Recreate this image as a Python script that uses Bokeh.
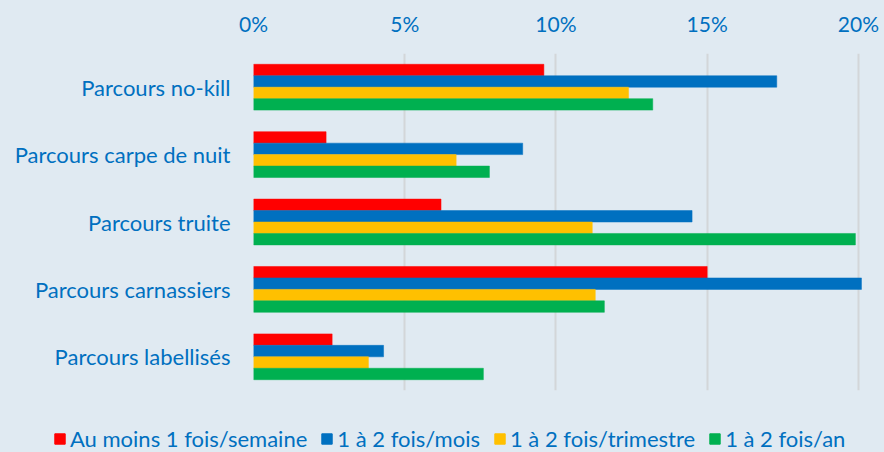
from bokeh.plotting import figure
from bokeh.layouts import column
from bokeh.models import FactorRange, Range1d, FixedTicker, Legend, LegendItem, ColumnDataSource
from bokeh.transform import dodge
from bokeh.embed import file_html
from bokeh.resources import INLINE

categories = ["Parcours no-kill", "Parcours carpe de nuit", "Parcours truite",
              "Parcours carnassiers", "Parcours labellisés"]
series_names = ["Au moins 1 fois/semaine", "1 à 2 fois/mois", "1 à 2 fois/trimestre", "1 à 2 fois/an"]
weekly = [9.6, 2.4, 6.2, 15.0, 2.6]
monthly = [17.3, 8.9, 14.5, 20.1, 4.3]
quarterly = [12.4, 6.7, 11.2, 11.3, 3.8]
yearly = [13.2, 7.8, 19.9, 11.6, 7.6]
tick_values = [0, 5, 10, 15, 20]
tick_labels = ["0%", "5%", "10%", "15%", "20%"]

colors = ["#FF0000", "#0070C0", "#FFC000", "#00B050"]
text_color = "#0070C0"
bg = "#e0eaf2"
FONT = "Lato"

src = ColumnDataSource(dict(cat=categories, weekly=weekly, monthly=monthly,
                            quarterly=quarterly, yearly=yearly))
fields = ["weekly", "monthly", "quarterly", "yearly"]
offsets = [0.255, 0.085, -0.085, -0.255]

# main chart
p = figure(width=884, height=400, y_range=FactorRange(*reversed(categories)),
           x_range=Range1d(0, 20.3), x_axis_location="above",
           min_border_left=253, min_border_right=17, min_border_top=53, min_border_bottom=10,
           output_backend="svg", toolbar_location=None)
p.background_fill_color = None
p.border_fill_color = bg
p.outline_line_color = None

for f, off, c in zip(fields, offsets, colors):
    p.hbar(y=dodge("cat", off, range=p.y_range), right=f, left=0, height=0.17,
           source=src, fill_color=c, line_color=c, line_width=0.5)

p.xaxis.ticker = FixedTicker(ticks=tick_values)
p.xaxis.major_label_overrides = {v: l for v, l in zip(tick_values, tick_labels)}
for ax in (p.xaxis, p.yaxis):
    ax.axis_line_color = None
    ax.major_tick_line_color = None
    ax.minor_tick_line_color = None
    ax.major_tick_out = 0
    ax.major_tick_in = 0
    ax.major_label_text_color = text_color
    ax.major_label_text_font = FONT
p.xaxis.major_label_text_font_size = "21px"
p.yaxis.major_label_text_font_size = "22px"
p.xaxis.major_label_standoff = 18
p.yaxis.major_label_standoff = 23

p.xgrid.grid_line_color = "#d3d6d9"
p.xgrid.grid_line_width = 2
p.ygrid.grid_line_color = None

# legend strip
lg = figure(width=884, height=52, y_range=FactorRange(*reversed(categories)),
            x_range=Range1d(-2, -1), x_axis_location=None, y_axis_location=None,
            min_border_left=0, min_border_right=0, min_border_top=0, min_border_bottom=0,
            output_backend="svg", toolbar_location=None)
lg.background_fill_color = None
lg.border_fill_color = bg
lg.outline_line_color = None
lg.grid.grid_line_color = None
for fig in (p, lg):
    if "frame_align" in fig.properties():
        fig.frame_align = False

renderers = []
for f, c in zip(fields, colors):
    r = lg.hbar(y="cat", right=f, left=0, height=0.17, source=src,
                fill_color=c, line_color=c)
    renderers.append(r)

legend = Legend(items=[LegendItem(label=n, renderers=[r]) for n, r in zip(series_names, renderers)],
                orientation="horizontal", location=(53, 0))
legend.background_fill_alpha = 0
legend.border_line_color = None
legend.padding = 0
legend.margin = 0
legend.spacing = 13
legend.glyph_width = 13
legend.glyph_height = 13
legend.label_standoff = 4
legend.label_text_color = text_color
legend.label_text_font = FONT
legend.label_text_font_size = "22px"
lg.add_layout(legend, "center")

layout = column(p, lg, spacing=0)
html = file_html(layout, INLINE)
html = html.replace("<body>", '<body style="background-color:%s">' % bg)
open("out.html", "w").write(html)
